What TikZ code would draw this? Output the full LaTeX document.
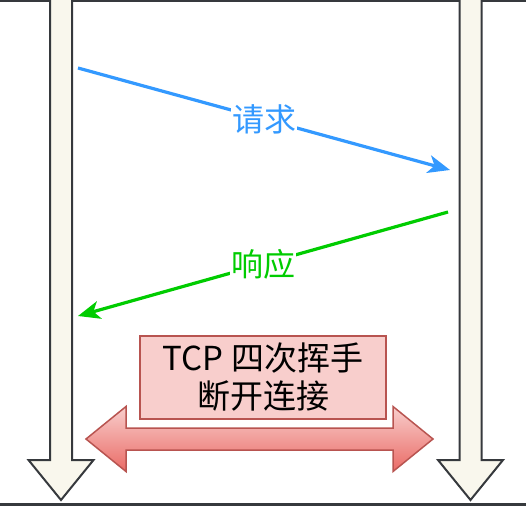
\documentclass[tikz,border=0pt]{standalone}
\usepackage{fontspec}
\setmainfont{Noto Sans CJK SC}
\usetikzlibrary{arrows.meta}

\definecolor{lineGray}{HTML}{36393D}
\definecolor{lifeFill}{HTML}{F9F7ED}
\definecolor{reqBlue}{HTML}{3399FF}
\definecolor{respGreen}{HTML}{00CC00}
\definecolor{boxFill}{HTML}{F8CECC}
\definecolor{boxLine}{HTML}{B85450}
\definecolor{boxDark}{HTML}{EA6B66}

\begin{document}
\begin{tikzpicture}[x=1pt, y=-1pt,
        lifeline/.style={draw=lineGray, fill=lifeFill, line width=2pt, line join=miter},
        message/.style={line width=3.2pt, -{Stealth[length=22pt, width=18pt, inset=6pt]}},
        msglabel/.style={fill=white, inner sep=1pt, font=\fontsize{32}{36}\selectfont},
        infobox/.style={draw=boxLine, fill=boxFill, line width=1.5pt, minimum width=246pt, minimum height=83pt, inner sep=0pt, align=center, font=\fontsize{33}{38}\selectfont},
        fatarrow/.style={draw=boxLine, line width=1.5pt, line join=miter, top color=boxFill, bottom color=boxDark}
    ]
        \useasboundingbox (0,0) rectangle (526,506);
        % frame edges of the screenshot
        \fill[lineGray] (0,0) rectangle (526,1.5);
        \fill[lineGray] (0,503) rectangle (526,506);

        % 1. Lifelines (client left, server right)
        \foreach \cx in {61, 470.5} {
            \draw[lifeline] (\cx-11,-5) -- (\cx-11,460) -- (\cx-32.5,460) -- (\cx,500)
                -- (\cx+32.5,460) -- (\cx+11,460) -- (\cx+11,-5);
        }

        % 2. Message end points
        \coordinate (client-req) at (78,68);
        \coordinate (server-req) at (450,170);
        \coordinate (server-resp) at (448,212);
        \coordinate (client-resp) at (78,316);

        % 3. Request and response
        \draw[message, draw=reqBlue, fill=reqBlue] (client-req) -- (server-req)
            node[msglabel, pos=0.5, text=reqBlue] (req) {请求};
        \draw[message, draw=respGreen, fill=respGreen] (server-resp) -- (client-resp)
            node[msglabel, pos=0.5, text=respGreen] (resp) {响应};

        % 4. Closing the connection
        \node[infobox] (close) at (263,377.5) {TCP 四次挥手\\断开连接};
        \draw[fatarrow] (86,439) -- (126,406.5) -- (126,428) -- (393,428) -- (393,406.5)
            -- (433,439) -- (393,471.5) -- (393,450) -- (126,450) -- (126,471.5) -- cycle;
\end{tikzpicture}
\end{document}
